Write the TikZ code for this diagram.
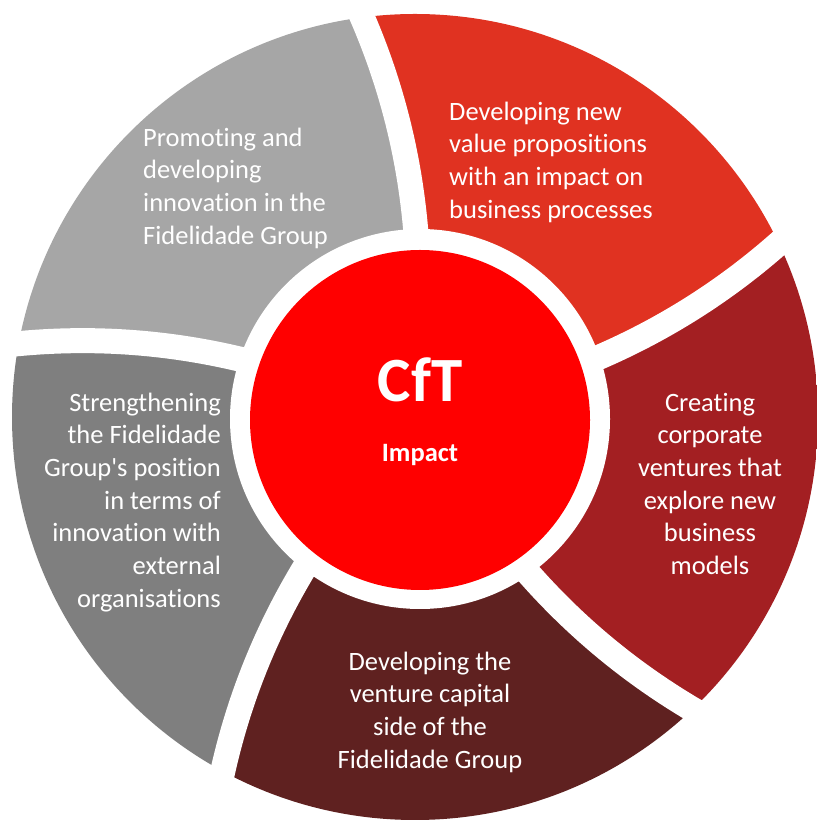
\documentclass[tikz,border=0pt]{standalone}
\usepackage{fontspec}
\newfontfamily\calfont{Carlito}[Ligatures=NoCommon]
\usetikzlibrary{calc}
\definecolor{segred}{HTML}{E03221}
\definecolor{segdark}{HTML}{A31F22}
\definecolor{segbrown}{HTML}{5F2120}
\definecolor{gmid}{HTML}{7F7F7F}
\definecolor{gtop}{HTML}{A6A6A6}
\definecolor{hubred}{HTML}{FF0000}
\begin{document}
\begin{tikzpicture}[x=1pt,y=1pt,
  gap/.style={draw=white, line width=25pt},
  lbl/.style={text=white, inner sep=0pt, font=\calfont\fontsize{26.5}{32.7}\selectfont},
  hubstyle/.style={circle, fill=hubred, minimum size=340pt, inner sep=0pt}]
\useasboundingbox[fill=white] (0,0) rectangle (816,821);
\coordinate (C) at (415,404);
\coordinate (H) at (420,402);
\foreach \k in {0,1,2,3,4}{
  \pgfmathsetmacro\t{90-72*\k}
  \coordinate (si\k) at ($(C)+(\t-0.4:180)$);
  \coordinate (so\k) at ($(C)+(\t+8.2:420)$);
  \coordinate (m\k) at ($(si\k)!0.5!(so\k)$);
  \coordinate (q\k) at ($(m\k)!22pt!-90:(so\k)$);
  \coordinate (ca\k) at ($(si\k)!0.6667!(q\k)$);
  \coordinate (cb\k) at ($(so\k)!0.6667!(q\k)$);
}
\begin{scope}
  \clip (C) circle[radius=403];
  \foreach \k/\j/\col in {0/1/segred, 1/2/segdark, 2/3/segbrown, 3/4/gmid, 4/0/gtop}{
    \pgfmathsetmacro\t{90-72*\k}
    \pgfmathsetmacro\ta{\t+8.2}
    \pgfmathsetmacro\tb{\t+8.2-72}
    \pgfmathsetmacro\tc{\t-72-0.4}
    \pgfmathsetmacro\td{\t-0.4}
    \fill[\col] (si\k) .. controls (ca\k) and (cb\k) .. (so\k)
      arc[start angle=\ta, end angle=\tb, radius=420]
      .. controls (cb\j) and (ca\j) .. (si\j)
      arc[start angle=\tc, end angle=\td, radius=180] -- cycle;
  }
\end{scope}
\fill[white] (H) circle[radius=190];
\foreach \k in {0,1,2,3,4}{
  \draw[gap] (si\k) .. controls (ca\k) and (cb\k) .. (so\k);
}
\node[hubstyle] (hub) at (420,401) {};
\node[text=white, font=\calfont\bfseries\fontsize{63}{70}\selectfont, anchor=base, inner sep=0pt] (cft) at (420,419) {CfT};
\node[text=white, font=\calfont\bfseries\fontsize{26.5}{32.7}\selectfont, anchor=base, inner sep=0pt] (impact) at (420,359) {Impact};
\node[lbl, align=left, anchor=north west] (t0) at (449,723.9) {\strut Developing new\\value propositions\\with an impact on\\business processes};
\node[lbl, align=center, anchor=north] (t1) at (710,432.9) {\strut Creating\\corporate\\ventures that\\explore new\\business\\models};
\node[lbl, align=center, anchor=north] (t2) at (430,173.9) {\strut Developing the\\venture capital\\side of the\\Fidelidade Group};
\node[lbl, align=right, anchor=north east] (t3) at (221,432.9) {\strut Strengthening\\the Fidelidade\\Group's position\\in terms of\\innovation with\\external\\organisations};
\node[lbl, align=left, anchor=north west] (t4) at (143,697.9) {\strut Promoting and\\developing\\innovation in the\\Fidelidade Group};
\end{tikzpicture}
\end{document}
